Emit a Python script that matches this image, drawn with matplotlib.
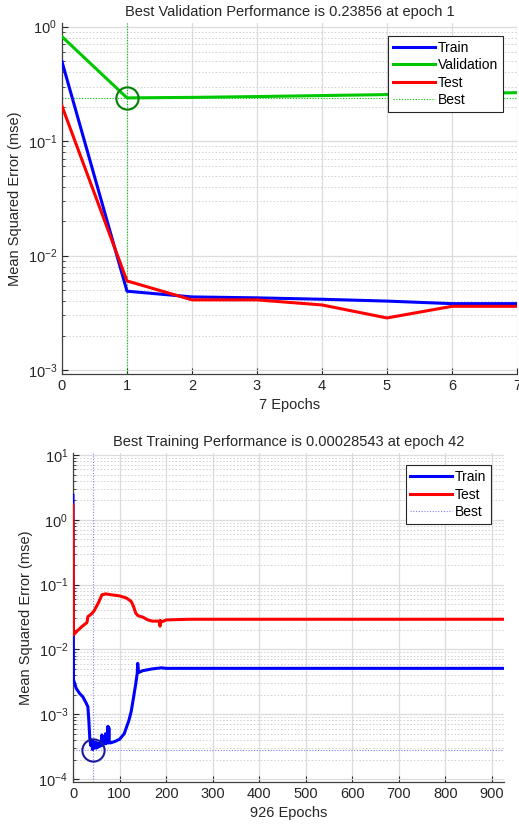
import numpy as np
import matplotlib
matplotlib.use("Agg")
import matplotlib.pyplot as plt
from matplotlib.ticker import LogLocator

plt.rcParams['font.family'] = ['Liberation Sans', 'DejaVu Sans']
plt.rcParams['font.size'] = 10

# ---- Top panel data (validation-based training, 7 epochs) ----
top_epochs = [0, 1, 2, 3, 4, 5, 6, 7]
top_train = [0.494, 0.00488, 0.00435, 0.00427, 0.00415, 0.0040, 0.0038, 0.0038]
top_val = [0.818, 0.23856, 0.241, 0.245, 0.250, 0.255, 0.260, 0.265]
top_test = [0.202, 0.0060, 0.0041, 0.0041, 0.0037, 0.00285, 0.0036, 0.0036]
top_best_epoch = 1
top_best_value = 0.23856
top_title = "Best Validation Performance is 0.23856 at epoch 1"
top_xlabel = "7 Epochs"

# ---- Bottom panel data (926 epochs) ----
bot_train_epoch = [0, 1, 7, 14, 21, 28, 32, 34, 36, 38, 40, 42, 44, 46, 48, 50,
                   52, 54, 56, 58, 60, 62, 63, 65, 68, 70, 71, 73, 75, 76, 77, 78,
                   80, 90, 100, 110, 120, 125, 130, 135, 138, 139, 141, 150, 170,
                   190, 200, 300, 926]
bot_train = [2.4, 0.0034, 0.0025, 0.0021, 0.00186, 0.0015, 0.0013, 0.0008, 0.00043,
             0.00033, 0.00040, 0.000285, 0.00038, 0.0003, 0.00037, 0.0003,
             0.00036, 0.00031, 0.00035, 0.00032, 0.00034, 0.00048, 0.00033, 0.00045,
             0.00035, 0.0005, 0.00035, 0.00038, 0.00065, 0.00036, 0.00062, 0.00037,
             0.00036, 0.00038, 0.00041, 0.0005, 0.0008, 0.0011, 0.0018, 0.003,
             0.0043, 0.0061, 0.0044, 0.0047, 0.0050, 0.0052, 0.0051, 0.0051, 0.0051]
bot_test_epoch = [0, 1, 10, 20, 30, 32, 40, 45, 55, 62, 70, 80, 100, 115, 125, 130,
                  135, 140, 150, 160, 170, 185, 187, 188, 190, 200, 250, 926]
bot_test = [1.69, 0.0168, 0.0196, 0.0228, 0.026, 0.032, 0.0355, 0.039, 0.053, 0.0695,
            0.072, 0.070, 0.067, 0.062, 0.055, 0.046, 0.036, 0.033, 0.0315, 0.0287,
            0.0273, 0.0273, 0.0228, 0.028, 0.0265, 0.0285, 0.0292, 0.0292]
bot_best_epoch = 42
bot_best_value = 0.00028543
bot_title = "Best Training Performance is 0.00028543 at epoch 42"
bot_xlabel = "926 Epochs"

ylabel = "Mean Squared Error (mse)"
BLUE, GREEN, RED = '#0000ff', '#00c800', '#ff0000'

fig = plt.figure(figsize=(5.19, 8.26), dpi=100)


def style_axes(ax):
    ax.set_yscale('log')
    ax.yaxis.set_major_locator(LogLocator(base=10, numticks=20))
    ax.yaxis.set_minor_locator(LogLocator(base=10, subs=np.arange(2, 10), numticks=20))
    ax.grid(True, which='major', color='#dcdcdc', lw=0.9, ls='-')
    ax.grid(True, which='minor', axis='y', color='#d0d0d0', lw=0.7, ls=(0, (1.5, 2)))
    ax.set_axisbelow(True)
    ax.tick_params(which='both', direction='in', colors='#262626', labelsize=10.5,
                   top=False, right=False)
    ax.tick_params(which='major', length=4)
    ax.tick_params(which='minor', length=2)
    ax.spines['top'].set_visible(False)
    ax.spines['right'].set_visible(False)
    for s in ('left', 'bottom'):
        ax.spines[s].set_color('#404040')
        ax.spines[s].set_linewidth(0.9)
    ax.set_ylabel(ylabel, fontsize=10.5, color='#262626')


# ---- Top axes ----
ax1 = fig.add_axes([62 / 519, (826 - 374) / 826, 455 / 519, 351 / 826])
ax1.plot(top_epochs, top_train, color=BLUE, lw=2.2, label='Train', zorder=3)
ax1.plot(top_epochs, top_val, color=GREEN, lw=2.2, label='Validation', zorder=3)
ax1.plot(top_epochs, top_test, color=RED, lw=2.2, label='Test', zorder=3)
ax1.axvline(top_best_epoch, color=GREEN, lw=0.8, ls=(0, (1, 1.5)), zorder=2)
ax1.axhline(top_best_value, color=GREEN, lw=0.8, ls=(0, (1, 1.5)), zorder=2, label='Best')
ax1.plot([top_best_epoch], [top_best_value], 'o', mfc='none', mec='#008000', ms=16,
         mew=1.5, zorder=4)
style_axes(ax1)
ax1.set_xlim(0, 7)
ax1.set_ylim(10 ** -3.035, 10 ** 0.032)
ax1.set_xticks(range(0, 8))
ax1.set_title(top_title, fontsize=10.5, color='#262626', pad=5)
ax1.set_xlabel(top_xlabel, fontsize=10.5, color='#262626', labelpad=4)
leg1 = ax1.legend(loc='upper right', bbox_to_anchor=(0.969, 0.963), borderaxespad=0,
                  fancybox=False, edgecolor='#262626', framealpha=1, fontsize=10,
                  handlelength=3.0, labelspacing=0.25, borderpad=0.35, handletextpad=0.2)
leg1.get_frame().set_linewidth(0.8)

# ---- Bottom axes ----
ax2 = fig.add_axes([73 / 519, (826 - 782) / 826, 431 / 519, 329 / 826])
ax2.plot(bot_train_epoch, bot_train, color=BLUE, lw=2.2, label='Train', zorder=3)
ax2.plot(bot_test_epoch, bot_test, color=RED, lw=2.2, label='Test', zorder=3)
ax2.axvline(bot_best_epoch, color='#8080ff', lw=0.8, ls=(0, (1, 1.5)), zorder=2)
ax2.axhline(bot_best_value, color='#8080ff', lw=0.8, ls=(0, (1, 1.5)), zorder=2, label='Best')
ax2.plot([bot_best_epoch], [bot_best_value], 'o', mfc='none', mec='#1a1a9a', ms=16,
         mew=1.5, zorder=4)
style_axes(ax2)
ax2.set_xlim(0, 926)
ax2.set_ylim(10 ** -4.046, 10 ** 1.031)
ax2.set_xticks(range(0, 901, 100))
ax2.set_title(bot_title, fontsize=10.5, color='#262626', pad=5)
ax2.set_xlabel(bot_xlabel, fontsize=10.5, color='#262626', labelpad=4)
leg2 = ax2.legend(loc='upper right', bbox_to_anchor=(0.970, 0.963), borderaxespad=0,
                  fancybox=False, edgecolor='#262626', framealpha=1, fontsize=10,
                  handlelength=3.0, labelspacing=0.25, borderpad=0.35, handletextpad=0.2)
leg2.get_frame().set_linewidth(0.8)

fig.savefig('out.png', dpi=100)
